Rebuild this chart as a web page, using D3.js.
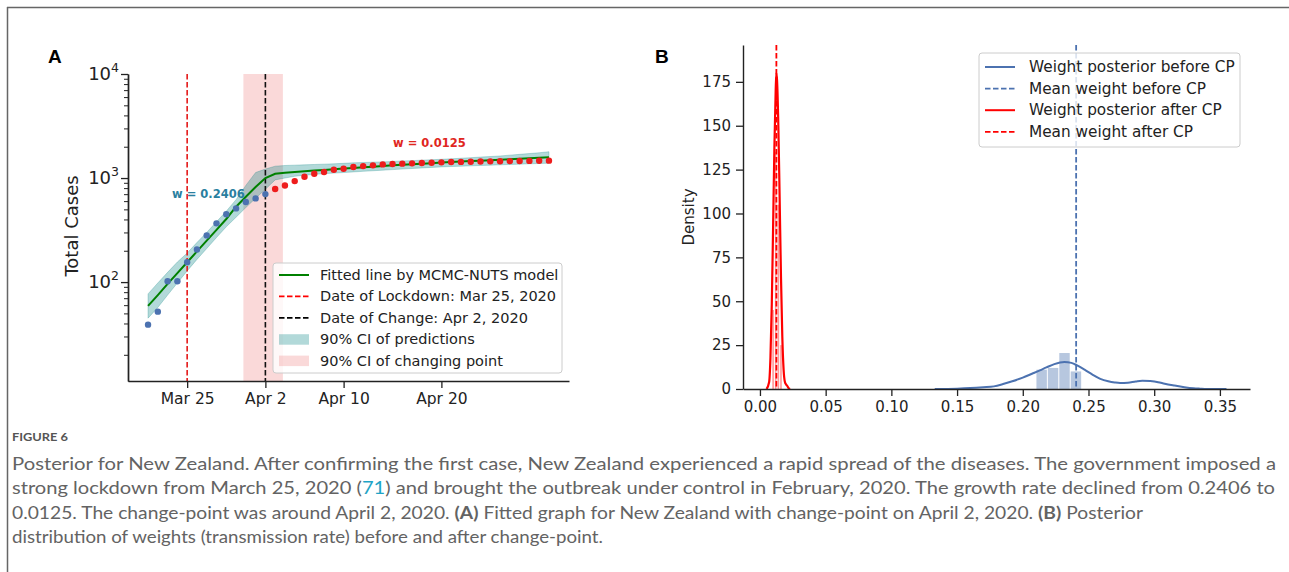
<!DOCTYPE html>
<html>
<head>
<meta charset="utf-8">
<script src="https://cdn.jsdelivr.net/npm/d3@7"></script>
<style>
body { margin: 0; background: #fff; }
svg { display: block; font-family: "DejaVu Sans", sans-serif; }
</style>
</head>
<body>
<svg id="fig" width="1289" height="572"></svg>
<script>
var svg = d3.select("#fig");

// ---------- panel A data ----------
var days = d3.timeDay.range(new Date(2020, 2, 21), new Date(2020, 4, 2)); // Mar 21 .. May 1
var casesBefore = [39, 52, 102, 102, 155, 206, 281, 367, 448, 511, 588, 637, 701];
var casesAfter = [784, 849, 935, 1030, 1100, 1142, 1202, 1228, 1276, 1303, 1324, 1353, 1365, 1375, 1384,
                  1393, 1403, 1415, 1425, 1430, 1436, 1440, 1447, 1450, 1455, 1458, 1462, 1465, 1470];
var fitted = [59, 75, 96, 122, 155, 197, 250, 318, 404, 530, 660, 820, 1000,
              1100, 1125, 1142, 1160, 1180, 1197, 1213, 1232, 1250, 1268, 1287, 1305, 1324, 1340, 1356,
              1373, 1390, 1408, 1425, 1440, 1455, 1470, 1485, 1500, 1515, 1531, 1547, 1563, 1580];
var ciLow = [45, 57, 75, 98, 128, 165, 210, 268, 340, 420, 520, 640, 780,
             960, 1000, 1040, 1065, 1085, 1100, 1115, 1130, 1145, 1160, 1175, 1190, 1205, 1220, 1235,
             1250, 1265, 1280, 1290, 1300, 1310, 1320, 1330, 1340, 1350, 1360, 1370, 1380, 1390];
var ciHigh = [77, 98, 124, 156, 190, 240, 300, 380, 480, 620, 850, 1130, 1220,
              1300, 1320, 1330, 1340, 1350, 1360, 1370, 1385, 1400, 1410, 1420, 1430, 1445, 1460, 1470,
              1485, 1500, 1515, 1530, 1550, 1570, 1590, 1610, 1630, 1660, 1690, 1720, 1750, 1790];
var lockdownDate = new Date(2020, 2, 25);
var changeDate = new Date(2020, 3, 2);
var changeCI = [new Date(2020, 2, 30, 18), new Date(2020, 3, 3, 19)];
var xTicksA = [new Date(2020, 2, 25), new Date(2020, 3, 2), new Date(2020, 3, 10), new Date(2020, 3, 20)];
var yTicksA = [100, 1000, 10000];
var legendA = [
  {label: "Fitted line by MCMC-NUTS model", kind: "line", color: "green"},
  {label: "Date of Lockdown: Mar 25, 2020", kind: "dash", color: "red"},
  {label: "Date of Change: Apr 2, 2020", kind: "dash", color: "black"},
  {label: "90% CI of predictions", kind: "patch", color: "teal"},
  {label: "90% CI of changing point", kind: "patch", color: "lightcoral"}
];

// ---------- panel B data ----------
var kdeBeforeX = [0.133, 0.15, 0.16, 0.17, 0.178, 0.185, 0.192, 0.2, 0.207, 0.213, 0.218, 0.224, 0.2316, 0.237,
                  0.2417, 0.247, 0.253, 0.259, 0.265, 0.27, 0.274, 0.28, 0.286, 0.291, 0.297, 0.303, 0.308,
                  0.315, 0.323, 0.33, 0.335, 0.34, 0.355];
var kdeBeforeY = [0, 0.2, 0.5, 1.0, 1.5, 2.8, 4.4, 6.5, 8.7, 10.6, 12.3, 14.2, 15.4, 14.9,
                  13.3, 11.0, 8.2, 5.8, 4.4, 3.7, 3.4, 3.6, 4.3, 4.7, 4.5, 3.9, 3.0,
                  2.0, 1.0, 0.4, 0.2, 0.05, 0];
var kdeAfterX = [0.005, 0.007, 0.008, 0.009, 0.010, 0.011, 0.012, 0.0125, 0.013, 0.014, 0.015, 0.016,
                 0.017, 0.018, 0.019, 0.020, 0.021, 0.022, 0.023];
var kdeAfterY = [0, 4, 18, 48, 92, 138, 171, 180, 176, 150, 108, 64, 30, 11, 4, 2.5, 1.5, 0.3, 0];
var histBeforeEdges = [0.2100, 0.2187, 0.2274, 0.2361, 0.2448];
var histBeforeDens = [11, 12, 20.5, 10];
var histAfterEdges = [0.009, 0.011, 0.013, 0.015, 0.017];
var histAfterDens = [45, 135, 105, 25];
var meanBefore = 0.2406;
var meanAfter = 0.0125;
var xTicksB = [0, 0.05, 0.1, 0.15, 0.2, 0.25, 0.3, 0.35];
var yTicksB = [0, 25, 50, 75, 100, 125, 150, 175];
var legendB = [
  {label: "Weight posterior before CP", kind: "line", color: "#4c72b0"},
  {label: "Mean weight before CP", kind: "dash", color: "#4c72b0"},
  {label: "Weight posterior after CP", kind: "line", color: "red"},
  {label: "Mean weight after CP", kind: "dash", color: "red"}
];

var captionLines = [
  "Posterior for New Zealand. After confirming the first case, New Zealand experienced a rapid spread of the diseases. The government imposed a",
  "strong lockdown from March 25, 2020 (|71|) and brought the outbreak under control in February, 2020. The growth rate declined from 0.2406 to",
  "0.0125. The change-point was around April 2, 2020. *(A)* Fitted graph for New Zealand with change-point on April 2, 2020. *(B)* Posterior",
  "distribution of weights (transmission rate) before and after change-point."
];
var captionWidths = [1264, 1263, 1131, 591];

var axisColor = "#222";

// frame of the figure
svg.append("line").attr("x1", 7).attr("y1", 7.5).attr("x2", 1289).attr("y2", 7.5)
   .attr("stroke", "#666").attr("stroke-width", 1.5);
svg.append("line").attr("x1", 7.5).attr("y1", 7).attr("x2", 7.5).attr("y2", 572)
   .attr("stroke", "#666").attr("stroke-width", 1.5);

function styleAxis(g) {
  g.select(".domain").attr("stroke", axisColor).attr("stroke-width", 1.4);
  g.selectAll(".tick line").attr("stroke", axisColor).attr("stroke-width", 1.3);
  g.selectAll(".tick text").attr("fill", axisColor);
}

// =================== PANEL A ===================
var xA = d3.scaleTime()
  .domain([new Date(2020, 2, 18, 22, 48), new Date(2020, 4, 3, 1, 12)])
  .range([128, 569]);
var yA = d3.scaleLog().domain([11.2, 10000]).range([381, 74]);

var gA = svg.append("g");

// pink CI of change point
gA.append("rect")
  .attr("x", xA(changeCI[0])).attr("width", xA(changeCI[1]) - xA(changeCI[0]))
  .attr("y", yA(10000)).attr("height", yA(11.2) - yA(10000))
  .attr("fill", "lightcoral").attr("fill-opacity", 0.3);

// CI band
var band = d3.area()
  .x(function(d, i) { return xA(days[i]); })
  .y0(function(d, i) { return yA(ciLow[i]); })
  .y1(function(d, i) { return yA(ciHigh[i]); });
gA.append("path").datum(days).attr("d", band)
  .attr("fill", "teal").attr("fill-opacity", 0.3)
  .attr("stroke", "teal").attr("stroke-opacity", 0.25).attr("stroke-width", 1);

// vertical lines
gA.append("line").attr("x1", xA(lockdownDate)).attr("x2", xA(lockdownDate))
  .attr("y1", yA(10000)).attr("y2", yA(11.2))
  .attr("stroke", "#e41a1a").attr("stroke-width", 1.6).attr("stroke-dasharray", "5.5,2.5");
gA.append("line").attr("x1", xA(changeDate)).attr("x2", xA(changeDate))
  .attr("y1", yA(10000)).attr("y2", yA(11.2))
  .attr("stroke", "#111").attr("stroke-width", 1.6).attr("stroke-dasharray", "5.5,2.5");

// fitted line
var fitLine = d3.line()
  .x(function(d, i) { return xA(days[i]); })
  .y(function(d) { return yA(d); });
gA.append("path").datum(fitted).attr("d", fitLine)
  .attr("fill", "none").attr("stroke", "green").attr("stroke-width", 2);

// observed points
gA.selectAll(".ptB").data(casesBefore).enter().append("circle")
  .attr("cx", function(d, i) { return xA(days[i]); })
  .attr("cy", function(d) { return yA(d); })
  .attr("r", 3.2).attr("fill", "#4c72b0");
gA.selectAll(".ptA").data(casesAfter).enter().append("circle")
  .attr("cx", function(d, i) { return xA(days[i + casesBefore.length]); })
  .attr("cy", function(d) { return yA(d); })
  .attr("r", 3.2).attr("fill", "#ee1c1c");

// annotations
gA.append("text").attr("x", 172).attr("y", 198).text("w = 0.2406")
  .attr("font-size", 11.5).attr("font-weight", "bold").attr("fill", "#2a7fa0");
gA.append("text").attr("x", 393).attr("y", 147).text("w = 0.0125")
  .attr("font-size", 11.5).attr("font-weight", "bold").attr("fill", "#e0261e");

// axes
var axXA = gA.append("g").attr("transform", "translate(0,381)")
  .call(d3.axisBottom(xA).tickValues(xTicksA).tickFormat(d3.timeFormat("%b %-d"))
        .tickSize(7).tickSizeOuter(0).tickPadding(5));
axXA.selectAll(".tick text").attr("font-size", 15.5).attr("font-family", "DejaVu Sans");
styleAxis(axXA);

var minorA = [];
[10, 100, 1000].forEach(function(dec) {
  for (var m = 2; m <= 9; m++) { if (dec * m >= 11.2) minorA.push(dec * m); }
});
var axYAminor = gA.append("g").attr("transform", "translate(128,0)")
  .call(d3.axisLeft(yA).tickValues(minorA).tickFormat("").tickSize(4).tickSizeOuter(0));
styleAxis(axYAminor);
axYAminor.selectAll(".tick line").attr("stroke-width", 1);
var axYA = gA.append("g").attr("transform", "translate(128,0)")
  .call(d3.axisLeft(yA).tickValues(yTicksA).tickFormat("").tickSize(7).tickSizeOuter(0));
styleAxis(axYA);
yTicksA.forEach(function(v) {
  var t = gA.append("text").attr("x", 119).attr("y", yA(v) + 6)
    .attr("text-anchor", "end").attr("font-size", 18).attr("fill", axisColor);
  t.append("tspan").text("10");
  t.append("tspan").text(Math.round(Math.log10(v))).attr("font-size", 12.5).attr("dy", -8);
});

gA.append("text").attr("transform", "translate(78,226) rotate(-90)")
  .attr("text-anchor", "middle").attr("font-size", 18).attr("fill", axisColor).text("Total Cases");

gA.append("text").attr("x", 48).attr("y", 63).text("A")
  .attr("font-family", "Liberation Sans, Arial, sans-serif").attr("font-weight", "bold").attr("font-size", 19);

// legends
function drawLegend(g, items, box, rowY, rowStep, hx, tx, fs) {
  g.append("rect").attr("x", box[0]).attr("y", box[1]).attr("width", box[2]).attr("height", box[3])
    .attr("rx", 3).attr("fill", "white").attr("fill-opacity", 0.8)
    .attr("stroke", "#ccc").attr("stroke-width", 1);
  items.forEach(function(it, i) {
    var y = rowY + i * rowStep;
    if (it.kind === "patch") {
      g.append("rect").attr("x", hx).attr("y", y - 5).attr("width", 30).attr("height", 10.5)
        .attr("fill", it.color).attr("fill-opacity", 0.3);
    } else {
      g.append("line").attr("x1", hx).attr("x2", hx + 30).attr("y1", y).attr("y2", y)
        .attr("stroke", it.color).attr("stroke-width", it.kind === "line" ? 2 : 1.8)
        .attr("stroke-dasharray", it.kind === "dash" ? "5.5,2.5" : null);
    }
    g.append("text").attr("x", tx).attr("y", y + 5).attr("font-size", fs).attr("fill", axisColor).text(it.label);
  });
}
drawLegend(gA, legendA, [273, 263, 289, 110], 275, 21.4, 279, 320, 14.5);

// =================== PANEL B ===================
var xB = d3.scaleLinear().domain([-0.0129, 0.3729]).range([743, 1250]);
var yB = d3.scaleLinear().domain([0, 196]).range([389, 45]);
var gB = svg.append("g");

function drawHist(edges, dens, color) {
  gB.selectAll(null).data(dens).enter().append("rect")
    .attr("x", function(d, i) { return xB(edges[i]) + 0.5; })
    .attr("width", function(d, i) { return xB(edges[i + 1]) - xB(edges[i]) - 1; })
    .attr("y", function(d) { return yB(d); })
    .attr("height", function(d) { return yB(0) - yB(d); })
    .attr("fill", color).attr("fill-opacity", 0.4);
}
drawHist(histBeforeEdges, histBeforeDens, "#4c72b0");
drawHist(histAfterEdges, histAfterDens, "red");

var kdeLine = d3.line().curve(d3.curveMonotoneX);
gB.append("path")
  .attr("d", kdeLine(kdeBeforeX.map(function(x, i) { return [xB(x), yB(kdeBeforeY[i])]; })))
  .attr("fill", "none").attr("stroke", "#4c72b0").attr("stroke-width", 2);
gB.append("path")
  .attr("d", kdeLine(kdeAfterX.map(function(x, i) { return [xB(x), yB(kdeAfterY[i])]; })))
  .attr("fill", "none").attr("stroke", "red").attr("stroke-width", 2.2);

gB.append("line").attr("x1", xB(meanBefore)).attr("x2", xB(meanBefore)).attr("y1", 45).attr("y2", 389)
  .attr("stroke", "#4c72b0").attr("stroke-width", 1.8).attr("stroke-dasharray", "5.5,2.5");
gB.append("line").attr("x1", xB(meanAfter)).attr("x2", xB(meanAfter)).attr("y1", 45).attr("y2", 389)
  .attr("stroke", "red").attr("stroke-width", 1.8).attr("stroke-dasharray", "5.5,2.5");

var axXB = gB.append("g").attr("transform", "translate(0,389)")
  .call(d3.axisBottom(xB).tickValues(xTicksB).tickFormat(d3.format(".2f"))
        .tickSize(7).tickSizeOuter(0).tickPadding(5));
axXB.selectAll(".tick text").attr("font-size", 15).attr("font-family", "DejaVu Sans");
styleAxis(axXB);
var axYB = gB.append("g").attr("transform", "translate(743,0)")
  .call(d3.axisLeft(yB).tickValues(yTicksB).tickFormat(d3.format("d"))
        .tickSize(7).tickSizeOuter(0).tickPadding(5));
axYB.selectAll(".tick text").attr("font-size", 15).attr("font-family", "DejaVu Sans");
styleAxis(axYB);

gB.append("text").attr("transform", "translate(694,217) rotate(-90)")
  .attr("text-anchor", "middle").attr("font-size", 15).attr("fill", axisColor).text("Density");

gB.append("text").attr("x", 655).attr("y", 63).text("B")
  .attr("font-family", "Liberation Sans, Arial, sans-serif").attr("font-weight", "bold").attr("font-size", 19);

drawLegend(gB, legendB, [979, 53, 261, 94], 67, 21.6, 985, 1029, 15.3);

// =================== caption ===================
svg.append("text").attr("x", 12).attr("y", 441).text("FIGURE 6")
  .attr("font-family", "Lato, sans-serif").attr("font-weight", "bold").attr("font-size", 12)
  .attr("fill", "#555").attr("textLength", 56).attr("lengthAdjust", "spacingAndGlyphs");

captionLines.forEach(function(line, i) {
  var t = svg.append("text").attr("x", 12).attr("y", 470 + i * 24.3)
    .attr("font-family", "Lato, sans-serif").attr("font-size", 16.5).attr("fill", "#636363")
    .attr("textLength", captionWidths[i]).attr("lengthAdjust", "spacingAndGlyphs");
  // *...* bold, |...| link colour
  line.split(/(\*[^*]+\*|\|[^|]+\|)/).forEach(function(part) {
    if (!part) return;
    if (part[0] === "*") t.append("tspan").text(part.slice(1, -1)).attr("font-weight", "bold");
    else if (part[0] === "|") t.append("tspan").text(part.slice(1, -1)).attr("fill", "#1ea4c6");
    else t.append("tspan").text(part);
  });
});
</script>
</body>
</html>
